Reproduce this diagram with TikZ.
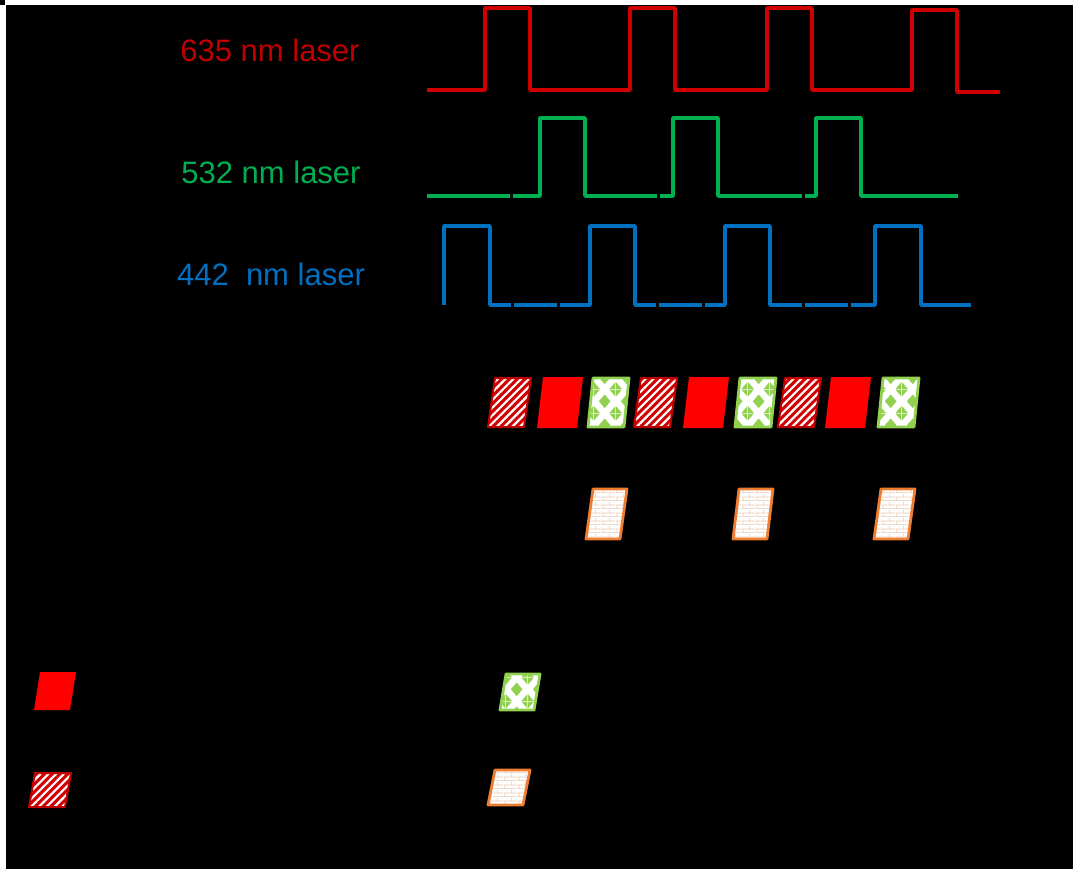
\documentclass[tikz,border=0pt]{standalone}
\usepackage{fontspec}
\setmainfont{Liberation Sans}
\usetikzlibrary{patterns,patterns.meta}
\definecolor{dred}{HTML}{C00000}
\definecolor{wred}{HTML}{D00000}
\definecolor{bred}{HTML}{FF0000}
\definecolor{wgreen}{HTML}{00B050}
\definecolor{wblue}{HTML}{0070C0}
\definecolor{lgreen}{HTML}{92D050}
\definecolor{orng}{HTML}{ED7D31}
\definecolor{brick}{HTML}{E9C9B0}
\tikzdeclarepattern{
  name=greendiamond,
  type=uncolored,
  bottom left={(0pt,0pt)},
  top right={(22pt,24pt)},
  tile size={(22pt,24pt)},
  code={
    \fill (11pt,5pt) -- (17pt,12pt) -- (11pt,19pt) -- (5pt,12pt) -- cycle;
    \fill (0pt,0pt) -- (6pt,0pt) -- (0pt,7pt) -- cycle;
    \fill (22pt,0pt) -- (16pt,0pt) -- (22pt,7pt) -- cycle;
    \fill (0pt,24pt) -- (6pt,24pt) -- (0pt,17pt) -- cycle;
    \fill (22pt,24pt) -- (16pt,24pt) -- (22pt,17pt) -- cycle;
  }
}
\tikzdeclarepattern{
  name=mybricks,
  type=uncolored,
  bottom left={(0pt,0pt)},
  top right={(14pt,8pt)},
  tile size={(14pt,8pt)},
  code={
    \draw[line width=0.7pt] (0pt,0.35pt) -- (14pt,0.35pt);
    \draw[line width=0.7pt] (0pt,4.35pt) -- (14pt,4.35pt);
    \draw[line width=0.7pt] (1pt,0pt) -- (1pt,4pt);
    \draw[line width=0.7pt] (8pt,4pt) -- (8pt,8pt);
  }
}
\tikzset{
  lbl/.style={font=\fontsize{31}{36}\selectfont, anchor=base, inner sep=0pt},
  wave/.style={line width=3.5pt, line join=round},
  solidbox/.style={fill=bred},
  hatchbox/.style={preaction={fill=wred}, pattern={Lines[angle=45,distance=5.5pt,line width=2.2pt]}, pattern color=white, draw=dred, line width=2pt, line join=round},
  greenbox/.style={preaction={fill=white}, pattern=greendiamond, pattern color=lgreen, draw=lgreen, line width=2.8pt, line join=round},
  orangebox/.style={preaction={fill=white}, pattern=mybricks, pattern color=brick, draw=orng, line width=2.8pt, line join=round},
}
\newcommand\mypgram[6]{%
  \path[#1] (#2,#3) -- ++(#4,0) -- ++(#6,-#5) -- ++(-#4,0) -- cycle;}
\begin{document}
\begin{tikzpicture}[x=1pt,y=-1pt]
\useasboundingbox (0,0) rectangle (1073,869);
\fill[black] (0,0) rectangle (1073,869);
\fill[white] (0,5) rectangle (6,869);
\fill[white] (5,0) rectangle (1073,5);

% labels
\node[lbl, text=dred] (l635) at (270,62) {635 nm laser};
\node[lbl, text=wgreen] (l532) at (271,184) {532 nm laser};
\node[lbl, text=wblue] (l442) at (271,285) {442\ \ nm laser};

% red waveform
\draw[wave, wred] (427,90) -- (485,90) -- (485,8) -- (530,8) -- (530,90) -- (630,90) -- (630,8) -- (675,8) -- (675,90)
  -- (767,90) -- (767,8) -- (812,8) -- (812,90) -- (912,90) -- (912,10) -- (957,10) -- (957,92) -- (1000,92);

% green waveform
\draw[wave, wgreen] (427,196) -- (510,196);
\draw[wave, wgreen] (513,196) -- (540,196) -- (540,118) -- (585,118) -- (585,196) -- (657,196);
\draw[wave, wgreen] (660,196) -- (673,196) -- (673,118) -- (718,118) -- (718,196) -- (802,196);
\draw[wave, wgreen] (805,196) -- (816,196) -- (816,118) -- (861,118) -- (861,196) -- (958,196);

% blue waveform
\draw[wave, wblue] (444,305) -- (444,226) -- (490,226) -- (490,305) -- (511,305);
\draw[wave, wblue] (514,305) -- (557,305);
\draw[wave, wblue] (560,305) -- (590,305) -- (590,226) -- (635,226) -- (635,305) -- (656,305);
\draw[wave, wblue] (659,305) -- (702,305);
\draw[wave, wblue] (705,305) -- (725,305) -- (725,226) -- (770,226) -- (770,305) -- (802,305);
\draw[wave, wblue] (805,305) -- (848,305);
\draw[wave, wblue] (851,305) -- (875,305) -- (875,226) -- (921,226) -- (921,305) -- (971,305);

% frame row
\mypgram{hatchbox}{488}{427}{36}{49}{7}
\mypgram{solidbox}{537}{428}{40}{51}{6}
\mypgram{greenbox}{588}{427}{36}{49}{5}
\mypgram{hatchbox}{634}{427}{36}{49}{7}
\mypgram{solidbox}{683}{428}{40}{51}{6}
\mypgram{greenbox}{735}{427}{36}{49}{5}
\mypgram{hatchbox}{778}{427}{36}{49}{7}
\mypgram{solidbox}{825}{428}{40}{51}{6}
\mypgram{greenbox}{878}{427}{36}{49}{5}

% orange row
\mypgram{orangebox}{586}{539}{34}{50}{7}
\mypgram{orangebox}{733}{539}{34}{50}{6}
\mypgram{orangebox}{874}{539}{34}{50}{7}

% legend
\mypgram{solidbox}{34}{710}{36}{38}{6}
\mypgram{hatchbox}{29}{807}{36}{34}{6}
\mypgram{greenbox}{500}{710}{34}{36}{6}
\mypgram{orangebox}{488}{805}{35}{35}{7}
\end{tikzpicture}
\end{document}
